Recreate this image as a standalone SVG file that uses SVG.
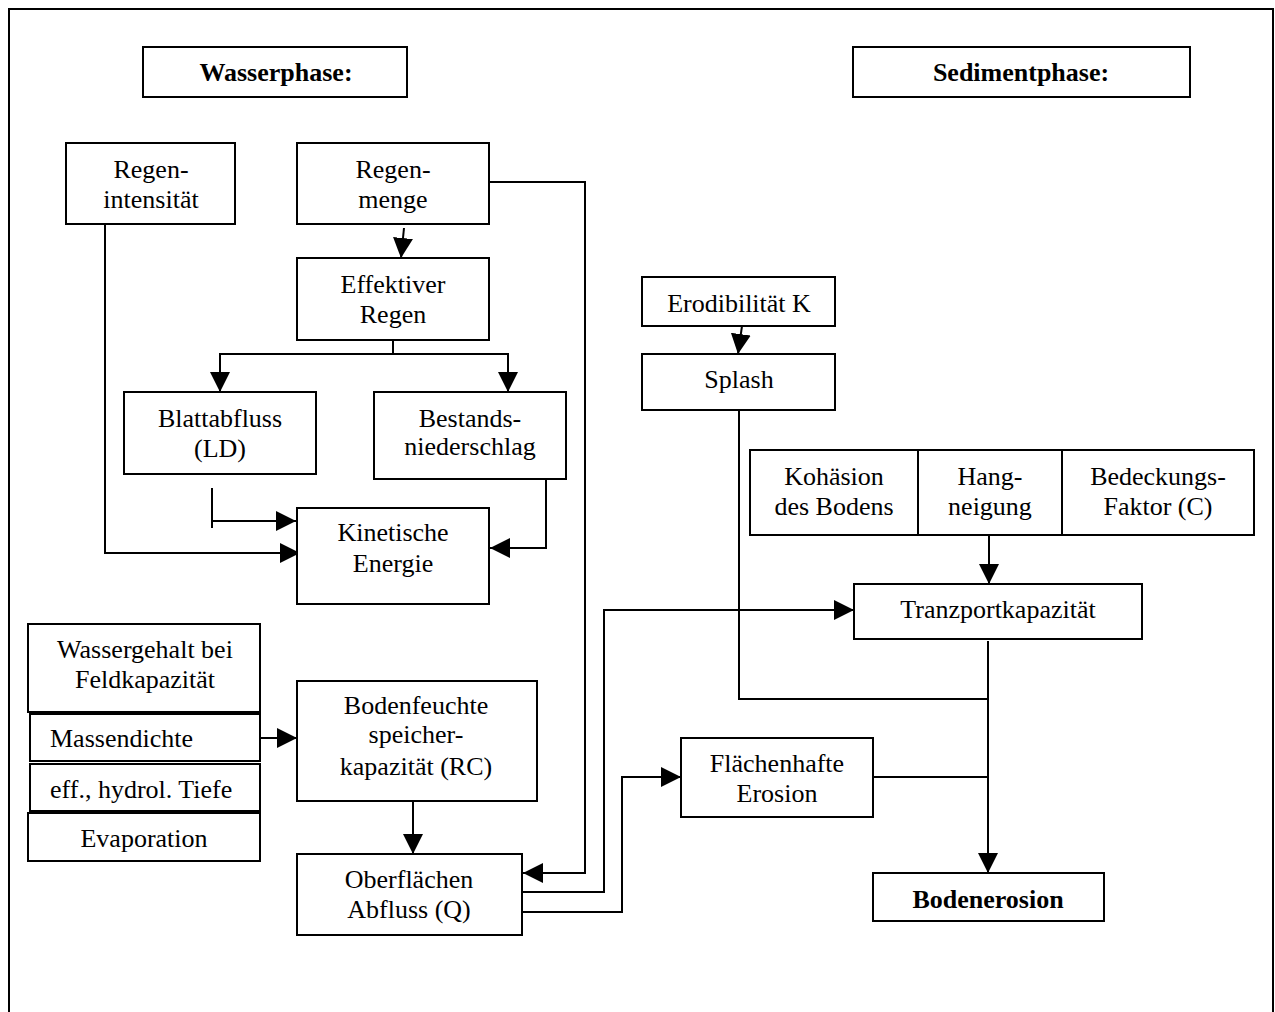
<svg xmlns="http://www.w3.org/2000/svg" width="1275" height="1012" viewBox="0 0 1275 1012">
<style>
.box{fill:#fff;stroke:#000;stroke-width:2}
.t{font-family:"Liberation Serif","Times New Roman",serif;font-size:26px;fill:#000;text-anchor:middle}
.s{text-anchor:start}
.b{font-weight:bold}
.c{fill:none;stroke:#000;stroke-width:2}
</style>
<defs>
<marker id="ah" markerUnits="userSpaceOnUse" markerWidth="20" markerHeight="20" refX="20" refY="10" orient="auto">
<path d="M0,0 L20,10 L0,20 z" fill="#000"/>
</marker>
</defs>
<rect width="1275" height="1012" fill="#fff"/>
<rect x="9" y="9" width="1264" height="1100" fill="none" stroke="#000" stroke-width="2"/>

<g id="connectors" class="c">
<path class="c" d="M105,224 V553 H300" marker-end="url(#ah)"/>
<path class="c" d="M404,228 L401,258" marker-end="url(#ah)"/>
<path class="c" d="M489,182 H585 V873 H523" marker-end="url(#ah)"/>
<path class="c" d="M393,340 V354 H220 V392" marker-end="url(#ah)"/>
<path class="c" d="M393,354 H508 V392" marker-end="url(#ah)"/>
<path class="c" d="M212,488 V528"/>
<path class="c" d="M212,521 H296" marker-end="url(#ah)"/>
<path class="c" d="M546,479 V548 H490" marker-end="url(#ah)"/>
<path class="c" d="M260,738 H297" marker-end="url(#ah)"/>
<path class="c" d="M413,801 V854" marker-end="url(#ah)"/>
<path class="c" d="M522,892 H604 V610 H854" marker-end="url(#ah)"/>
<path class="c" d="M522,912 H622 V777 H681" marker-end="url(#ah)"/>
<path class="c" d="M742,326 L738,354" marker-end="url(#ah)"/>
<path class="c" d="M739,410 V699 H988"/>
<path class="c" d="M989,535 V584" marker-end="url(#ah)"/>
<path class="c" d="M988,641 V873" marker-end="url(#ah)"/>
<path class="c" d="M873,777 H988"/>
</g>

<g id="wasserphase"><rect class="box" x="143" y="47" width="264" height="50"/><text class="t b" x="276" y="81">Wasserphase:</text></g>
<g id="sedimentphase"><rect class="box" x="853" y="47" width="337" height="50"/><text class="t b" x="1021" y="81">Sedimentphase:</text></g>

<g id="regenintensitaet"><rect class="box" x="66" y="143" width="169" height="81"/><text class="t" x="151" y="178">Regen-</text><text class="t" x="151" y="208">intensität</text></g>
<g id="regenmenge"><rect class="box" x="297" y="143" width="192" height="81"/><text class="t" x="393" y="178">Regen-</text><text class="t" x="393" y="208">menge</text></g>
<g id="effektiver"><rect class="box" x="297" y="258" width="192" height="82"/><text class="t" x="393" y="293">Effektiver</text><text class="t" x="393" y="323">Regen</text></g>
<g id="blattabfluss"><rect class="box" x="124" y="392" width="192" height="82"/><text class="t" x="220" y="427">Blattabfluss</text><text class="t" x="220" y="457">(LD)</text></g>
<g id="bestand"><rect class="box" x="374" y="392" width="192" height="87"/><text class="t" x="470" y="427">Bestands-</text><text class="t" x="470" y="455">niederschlag</text></g>
<g id="kinetisch"><rect class="box" x="297" y="508" width="192" height="96"/><text class="t" x="393" y="541">Kinetische</text><text class="t" x="393" y="572">Energie</text></g>

<g id="wassergehalt"><rect class="box" x="28" y="624" width="232" height="88"/><text class="t" x="145" y="658">Wassergehalt bei</text><text class="t" x="145" y="688">Feldkapazität</text></g>
<g id="massendichte"><rect class="box" x="30" y="714" width="230" height="47"/><text class="t s" x="50" y="747">Massendichte</text></g>
<g id="tiefe"><rect class="box" x="30" y="764" width="230" height="47"/><text class="t s" x="50" y="798">eff., hydrol. Tiefe</text></g>
<g id="evaporation"><rect class="box" x="28" y="813" width="232" height="48"/><text class="t" x="144" y="847">Evaporation</text></g>

<g id="bodenfeuchte"><rect class="box" x="297" y="681" width="240" height="120"/><text class="t" x="416" y="714">Bodenfeuchte</text><text class="t" x="416" y="743">speicher-</text><text class="t" x="416" y="775">kapazität (RC)</text></g>
<g id="oberflaechen"><rect class="box" x="297" y="854" width="225" height="81"/><text class="t" x="409" y="888">Oberflächen</text><text class="t" x="409" y="918">Abfluss (Q)</text></g>

<g id="erodibilitaet"><rect class="box" x="642" y="277" width="193" height="49"/><text class="t" x="739" y="312">Erodibilität K</text></g>
<g id="splash"><rect class="box" x="642" y="354" width="193" height="56"/><text class="t" x="739" y="388">Splash</text></g>
<g id="faktoren">
<rect class="box" x="750" y="450" width="504" height="85"/>
<line x1="918" y1="450" x2="918" y2="535" stroke="#000" stroke-width="2"/>
<line x1="1062" y1="450" x2="1062" y2="535" stroke="#000" stroke-width="2"/>
</g>
<g id="kohaesion"><text class="t" x="834" y="485">Kohäsion</text><text class="t" x="834" y="515">des Bodens</text></g>
<g id="hangneigung"><text class="t" x="990" y="485">Hang-</text><text class="t" x="990" y="515">neigung</text></g>
<g id="bedeckung"><text class="t" x="1158" y="485">Bedeckungs-</text><text class="t" x="1158" y="515">Faktor (C)</text></g>
<g id="transport"><rect class="box" x="854" y="584" width="288" height="55"/><text class="t" x="998" y="618">Tranzportkapazität</text></g>
<g id="flaechenhaft"><rect class="box" x="681" y="738" width="192" height="79"/><text class="t" x="777" y="772">Flächenhafte</text><text class="t" x="777" y="802">Erosion</text></g>
<g id="bodenerosion"><rect class="box" x="873" y="873" width="231" height="48"/><text class="t b" x="988" y="908">Bodenerosion</text></g>
</svg>
